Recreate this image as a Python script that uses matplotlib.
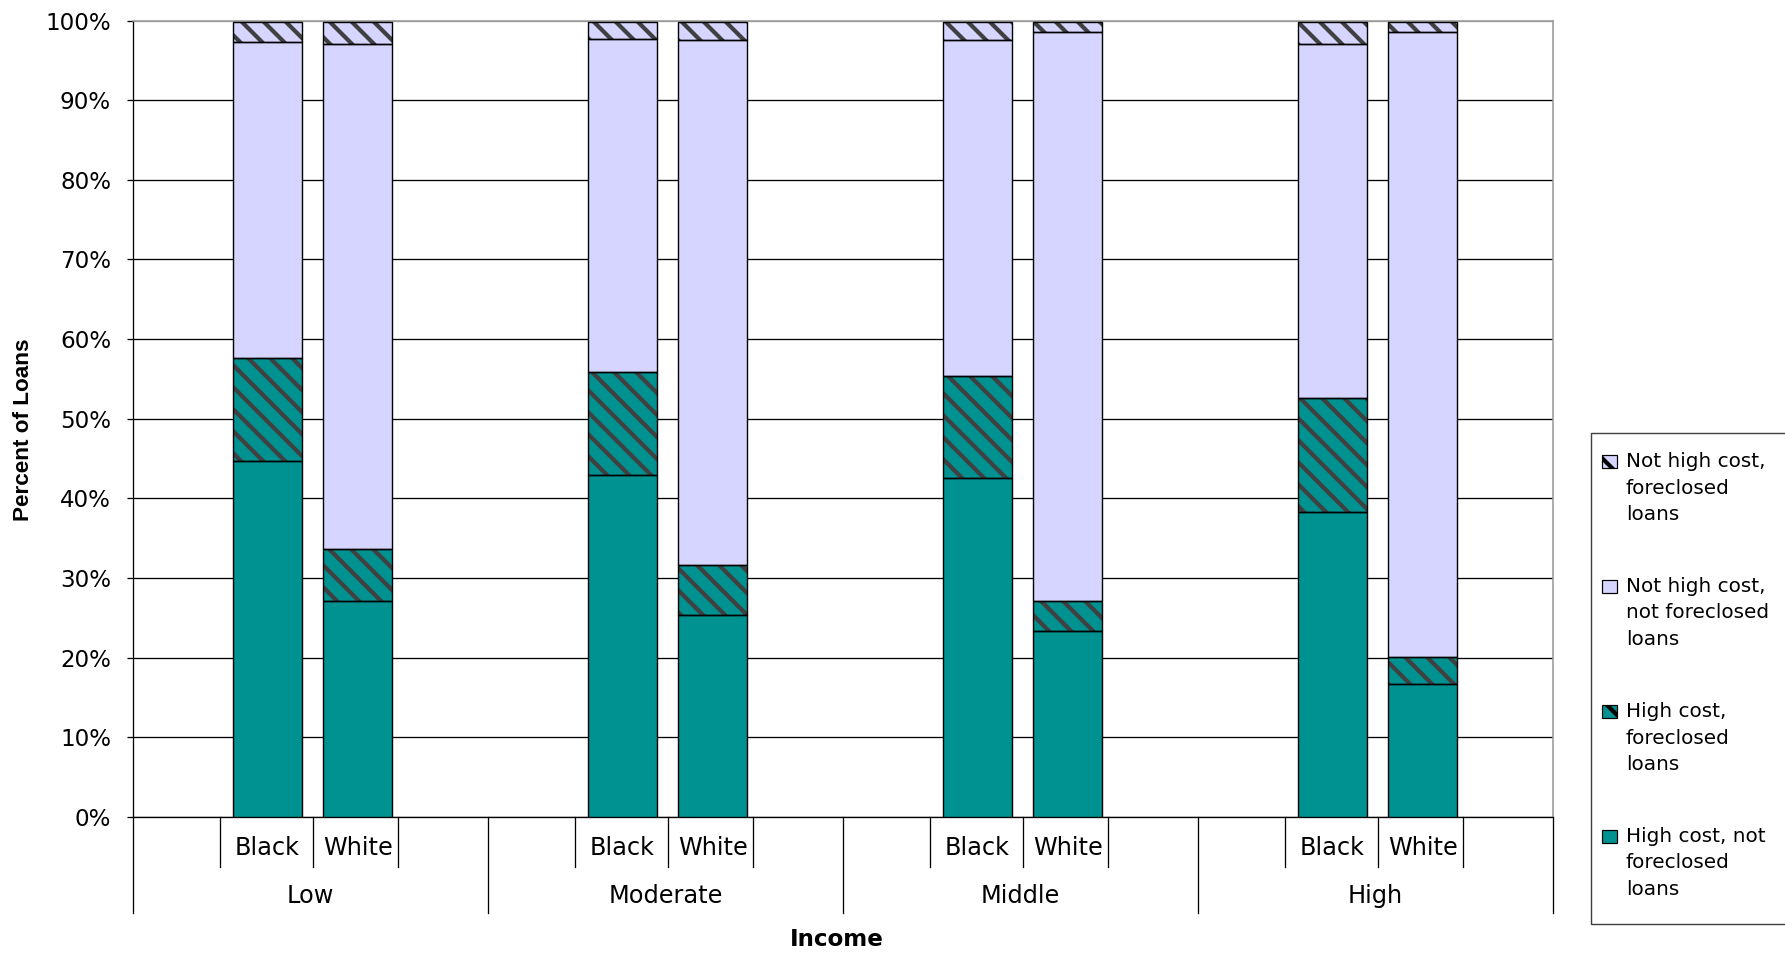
import numpy as np
import matplotlib
matplotlib.use("Agg")
import matplotlib.pyplot as plt
from matplotlib.patches import Patch, Rectangle
from matplotlib.legend_handler import HandlerPatch
from matplotlib import font_manager

# Loan outcome shares (percent of loans) by income group and race
income_groups = ["Low", "Moderate", "Middle", "High"]
races = ["Black", "White"]

# order: Low B, Low W, Moderate B, Moderate W, Middle B, Middle W, High B, High W
high_not_fc = [44.7, 27.1, 43.0, 25.4, 42.6, 23.4, 38.3, 16.7]
high_fc = [12.9, 6.6, 12.9, 6.3, 12.8, 3.7, 14.3, 3.4]
not_high_not_fc = [39.7, 63.4, 41.8, 65.9, 42.2, 71.5, 44.5, 78.4]
not_high_fc = [2.5, 2.7, 2.1, 2.2, 2.2, 1.2, 2.7, 1.3]

series_names = ["High cost, not\nforeclosed\nloans",
                "High cost,\nforeclosed\nloans",
                "Not high cost,\nnot foreclosed\nloans",
                "Not high cost,\nforeclosed\nloans"]

TEAL = "#009191"
LAVENDER = "#D5D5FF"
HATCH_COL = "#404040"

# figure is laid out in pixels; pt() turns a pixel size into points
DPI = 132
W, H = 1785, 955


def pt(px):
    return px * 72.0 / DPI


installed = {f.name for f in font_manager.fontManager.ttflist}
if "Liberation Sans Narrow" in installed:
    ylab_family, ylab_px = "Liberation Sans Narrow", 27
else:
    ylab_family, ylab_px = "Liberation Sans", 22.5

plt.rcParams["font.family"] = ["DejaVu Sans"]
plt.rcParams["hatch.linewidth"] = pt(4.2)
plt.rcParams["hatch.color"] = HATCH_COL

fig = plt.figure(figsize=(W / DPI, H / DPI), dpi=DPI)
ax = fig.add_axes([133 / W, 1 - 817 / H, (1553 - 133) / W, (817 - 20.5) / H])

# x positions: each income group spans one unit
offsets = [0.378, 0.633]
width = 0.195
xs = np.array([g + offsets[r] for g in range(len(income_groups)) for r in range(len(races))])

layers = [high_not_fc, high_fc, not_high_not_fc, not_high_fc]
colors = [TEAL, TEAL, LAVENDER, LAVENDER]
hatches = [None, "\\\\", None, "\\\\"]

bottom = np.zeros(len(xs))
for vals, col, h in zip(layers, colors, hatches):
    vals = np.array(vals)
    # fill + hatch in dark grey, then a black outline on top
    ax.bar(xs, vals, width, bottom=bottom, color=col, hatch=h,
           edgecolor=HATCH_COL, linewidth=0, zorder=3)
    ax.bar(xs, vals, width, bottom=bottom, fill=False,
           edgecolor="black", linewidth=pt(1.4), zorder=4)
    bottom += vals

ax.set_xlim(0, len(income_groups))
ax.set_ylim(0, 100)
ax.set_yticks(np.arange(0, 101, 10))
ax.set_yticklabels([f"{v}%" for v in range(0, 101, 10)], fontsize=pt(23))
ax.tick_params(axis="y", direction="out", length=pt(6), width=pt(1.3), pad=pt(16))
ax.set_xticks([])

ax.yaxis.grid(True, color="black", linewidth=pt(1.3), zorder=0)
ax.get_ygridlines()[-1].set_color("#999999")
ax.set_axisbelow(True)

for side in ["top", "right"]:
    ax.spines[side].set_color("#999999")
    ax.spines[side].set_linewidth(pt(1.6))
ax.spines["left"].set_linewidth(pt(1.3))
ax.spines["bottom"].set_linewidth(pt(1.3))

ax.set_ylabel("Percent of Loans", fontsize=pt(ylab_px), fontweight="bold",
              family=[ylab_family, "DejaVu Sans"], va="center")
ax.yaxis.set_label_coords(-0.0768, 0.486)

# two-level category axis below the plot
trans = ax.get_xaxis_transform()
for g, name in enumerate(income_groups):
    ax.plot([g, g], [0, -0.1205], color="black", lw=pt(1.3), transform=trans, clip_on=False)
    for x0 in [0.244, 0.506, 0.747]:
        ax.plot([g + x0, g + x0], [0, -0.063], color="black", lw=pt(1.3),
                transform=trans, clip_on=False)
    for r, race in enumerate(races):
        ax.text(g + offsets[r], -0.039, race, ha="center", va="center",
                fontsize=pt(24), transform=trans)
    ax.text(g + 0.5, -0.099, name, ha="center", va="center", fontsize=pt(24), transform=trans)
ax.plot([len(income_groups)] * 2, [0, -0.1205], color="black", lw=pt(1.3),
        transform=trans, clip_on=False)

fig.text(837 / W, 1 - 940 / H, "Income", ha="center", va="center",
         fontsize=pt(23), fontweight="bold")

# legend frame runs off the right edge of the figure
fig.patches.append(Rectangle((1591 / W, 1 - 924 / H), 300 / W, (924 - 433) / H,
                             transform=fig.transFigure, fill=False,
                             edgecolor="#404040", linewidth=pt(1.4)))

LEG_PX = 20
LINE_PX = 27


def top_line_square(legend, orig_handle, xdescent, ydescent, width, height, fontsize):
    # put the swatch beside the first line of a three-line label
    return Rectangle((-xdescent, -ydescent + pt(LINE_PX)), width, height)


handles = [Patch(facecolor=c, edgecolor="black", hatch=h, linewidth=pt(1.2))
           for c, h in zip(colors, hatches)]
leg = fig.legend(handles[::-1], series_names[::-1], loc="upper left",
                 bbox_to_anchor=(1602 / W, 1 - 452 / H),
                 fontsize=pt(LEG_PX), frameon=False,
                 handlelength=15 / LEG_PX, handleheight=12 / LEG_PX,
                 handletextpad=9 / LEG_PX, labelspacing=2.65,
                 borderpad=0, borderaxespad=0,
                 handler_map={Patch: HandlerPatch(patch_func=top_line_square)})
for t in leg.get_texts():
    t.set_linespacing(1.5)

fig.savefig("out.png", dpi=DPI)
